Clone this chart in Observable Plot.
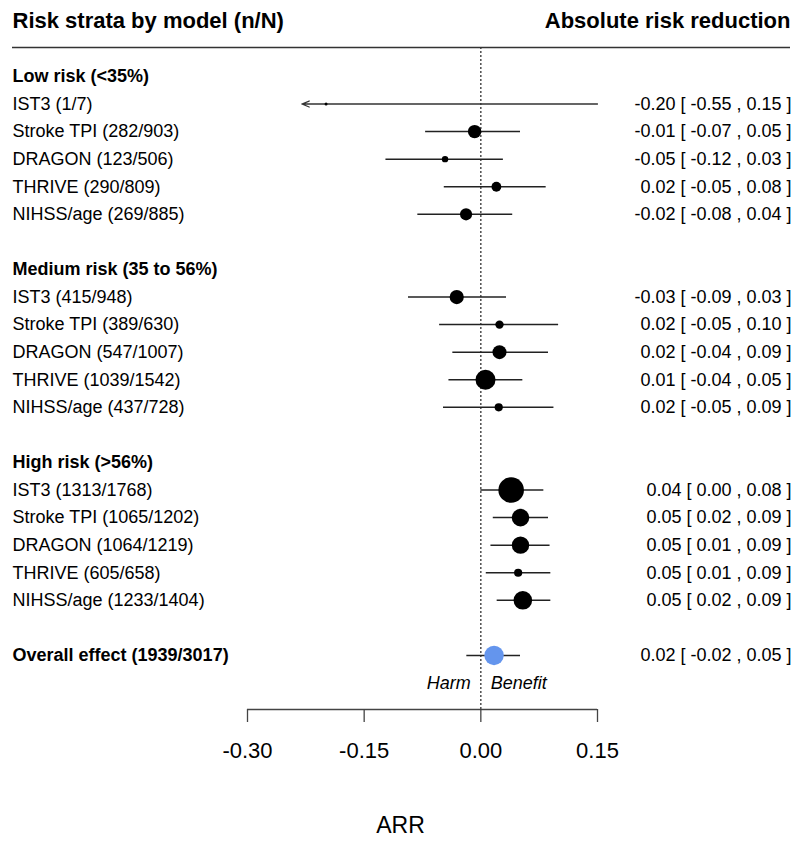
<!DOCTYPE html>
<html>
<head>
<meta charset="utf-8">
<script src="https://cdn.jsdelivr.net/npm/d3@7"></script>
<script src="https://cdn.jsdelivr.net/npm/@observablehq/plot@0.6"></script>
<style>
  body { margin: 0; background: #fff; }
  #chart svg { display: block; }
</style>
</head>
<body>
<div id="chart"></div>
<script>
// ---- data ----
const strata = ["Low risk (<35%)", "Medium risk (35 to 56%)", "High risk (>56%)"];
const models = ["IST3", "Stroke TPI", "DRAGON", "THRIVE", "NIHSS/age"];
const nEvents = [[1, 282, 123, 290, 269], [415, 389, 547, 1039, 437], [1313, 1065, 1064, 605, 1233]];
const nTotal  = [[7, 903, 506, 809, 885], [948, 630, 1007, 1542, 728], [1768, 1202, 1219, 658, 1404]];
const arrEst   = [[-0.199, -0.008, -0.046, 0.020, -0.019], [-0.031, 0.024, 0.024, 0.006, 0.023], [0.039, 0.051, 0.051, 0.048, 0.054]];
const arrLower = [[-0.55, -0.071, -0.122, -0.047, -0.081], [-0.093, -0.053, -0.036, -0.041, -0.048], [0.000, 0.016, 0.013, 0.007, 0.021]];
const arrUpper = [[0.15, 0.051, 0.029, 0.084, 0.041], [0.033, 0.100, 0.087, 0.054, 0.094], [0.081, 0.087, 0.089, 0.090, 0.090]];
const boxWeight = [[1.5, 6.7, 3.2, 4.9, 6.1], [7.1, 4.2, 7.0, 10.0, 4.1], [12.8, 8.8, 8.7, 4.1, 9.3]];
const overallLabel = "Overall effect";
const overallN = [1939, 3017];
const overallEst = 0.017, overallLower = -0.018, overallUpper = 0.051, overallWeight = 9.7;
const xTicks = [-0.30, -0.15, 0.00, 0.15];
const clipLower = -0.23;
const titleLeft = "Risk strata by model (n/N)";
const titleRight = "Absolute risk reduction";
const harmLabel = "Harm", benefitLabel = "Benefit";
const axisLabel = "ARR";

// ---- table built from arrays ----
const fmt = v => v.toFixed(2);
const headers = [];
const rows = [];
strata.forEach((s, si) => {
  const base = si * 7;
  headers.push({label: s, row: base});
  models.forEach((m, mi) => {
    rows.push({
      label: `${m} (${nEvents[si][mi]}/${nTotal[si][mi]})`,
      row: base + 1 + mi,
      est: arrEst[si][mi], lo: arrLower[si][mi], hi: arrUpper[si][mi],
      w: boxWeight[si][mi], overall: false
    });
  });
});
rows.push({label: overallLabel, row: 21, est: overallEst, lo: overallLower, hi: overallUpper, w: overallWeight, overall: true});
headers.push({label: `${overallLabel} (${overallN[0]}/${overallN[1]})`, row: 21});
rows.forEach(d => { d.ci = `${fmt(d.est)} [ ${fmt(d.lo)} , ${fmt(d.hi)} ]`; });
const normalRows = rows.filter(d => !d.overall);

const font = "'Liberation Sans', Arial, Helvetica, sans-serif";
const yDomain = [-1.05, 22.96];

const chart = Plot.plot({
  width: 800,
  height: 847,
  marginTop: 47,
  marginBottom: 138,
  marginLeft: 0,
  marginRight: 0,
  style: {fontFamily: font, background: "#fff", color: "#000"},
  x: {domain: [xTicks[0], xTicks[xTicks.length - 1]], range: [247, 597]},
  y: {domain: yDomain, reverse: true, axis: null},
  r: {type: "identity"},
  marks: [
    // header rule
    Plot.ruleY([yDomain[0]], {insetLeft: 12, insetRight: 10, stroke: "#333", strokeWidth: 1.5}),
    // zero line
    Plot.ruleX([0], {stroke: "#333", strokeWidth: 1.3, strokeDasharray: "2,2"}),
    // CI lines (non-clipped)
    Plot.ruleY(rows.filter(d => d.lo >= clipLower), {y: "row", x1: "lo", x2: "hi", stroke: "#222", strokeWidth: 1.5}),
    // clipped CI as arrow
    Plot.arrow(rows.filter(d => d.lo < clipLower), {
      x1: "hi", y1: "row", x2: () => clipLower, y2: "row",
      stroke: "#333", strokeWidth: 1.3, headLength: 9, headAngle: 45
    }),
    // boxes
    Plot.dot(normalRows, {x: "est", y: "row", r: "w", fill: "#000", stroke: "none"}),
    Plot.dot(rows.filter(d => d.overall), {x: "est", y: "row", r: "w", fill: "#6495ED", stroke: "none"}),
    // left column labels
    Plot.text(normalRows, {y: "row", text: "label", frameAnchor: "left", dx: 12, textAnchor: "start", fontSize: 18, fill: "#000"}),
    Plot.text(headers, {y: "row", text: "label", frameAnchor: "left", dx: 12, textAnchor: "start", fontSize: 18, fontWeight: "bold", fill: "#000"}),
    // right column
    Plot.text(rows, {y: "row", text: "ci", frameAnchor: "right", dx: -9, textAnchor: "end", fontSize: 18, fill: "#000"}),
    // titles
    Plot.text([titleLeft], {y: () => -2.02, text: d => d, frameAnchor: "left", dx: 12, textAnchor: "start", fontSize: 22, fontWeight: "bold", fill: "#000"}),
    Plot.text([titleRight], {y: () => -2.02, text: d => d, frameAnchor: "right", dx: -10, textAnchor: "end", fontSize: 22, fontWeight: "bold", fill: "#000"}),
    // harm / benefit
    Plot.text([harmLabel], {x: () => 0, y: () => 22.0, text: d => d, dx: -10, textAnchor: "end", fontSize: 18, fontStyle: "italic", fill: "#000"}),
    Plot.text([benefitLabel], {x: () => 0, y: () => 22.0, text: d => d, dx: 10, textAnchor: "start", fontSize: 18, fontStyle: "italic", fill: "#000"}),
    // axis
    Plot.ruleY([yDomain[1]], {x1: () => xTicks[0], x2: () => xTicks[xTicks.length - 1], stroke: "#444", strokeWidth: 1.3}),
    Plot.axisX({ticks: xTicks, tickSize: 13, tickPadding: 20, fontSize: 22, tickFormat: d => d.toFixed(2), stroke: "#444", strokeWidth: 1.3, fill: "#000", label: null}),
    Plot.text([axisLabel], {text: d => d, frameAnchor: "bottom", dy: 123, fontSize: 23, fill: "#000"})
  ]
});
document.getElementById("chart").appendChild(chart);
</script>
</body>
</html>
